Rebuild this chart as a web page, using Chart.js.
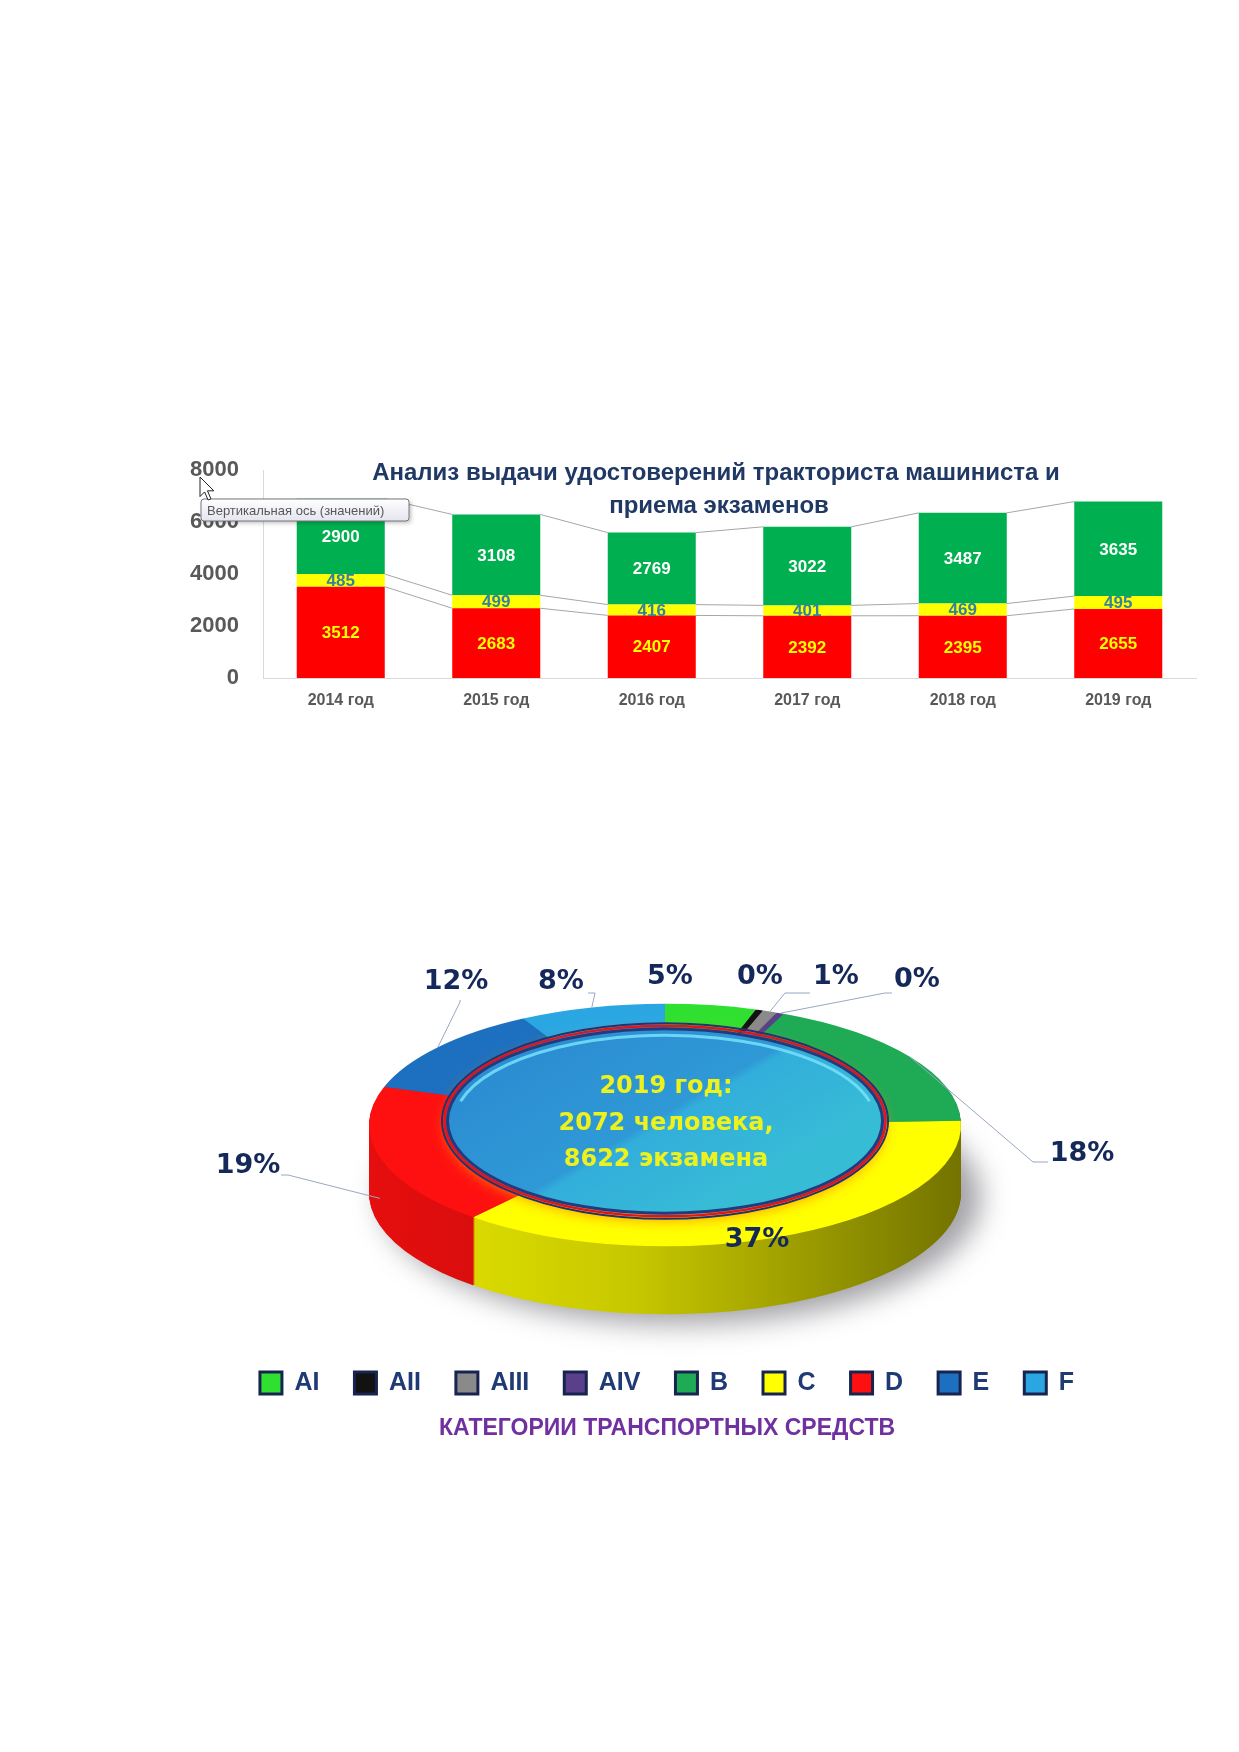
<!DOCTYPE html>
<html lang="ru">
<head>
<meta charset="UTF-8">
<title>Анализ выдачи удостоверений тракториста машиниста</title>
<style>
    * { margin: 0; padding: 0; box-sizing: border-box; }
    body { background: #fff; width: 1239px; height: 1752px; position: relative; overflow: hidden; }
    .box { position: absolute; }
    #barBox { left: 150px; top: 440px; width: 1070px; height: 290px; }
    #ringBox { left: 167px; top: 940px; width: 1000px; height: 540px; }
</style>
<script src="https://cdn.jsdelivr.net/npm/chart.js"></script>
</head>
<body>
<div class="box" id="barBox"><canvas id="barChart"></canvas></div>
<div class="box" id="ringBox"><canvas id="ringChart"></canvas></div>

<script>
// ---- bar chart data ----
const years = ['2014 год', '2015 год', '2016 год', '2017 год', '2018 год', '2019 год'];
const redSeries = [3512, 2683, 2407, 2392, 2395, 2655];
const yellowSeries = [485, 499, 416, 401, 469, 495];
const greenSeries = [2900, 3108, 2769, 3022, 3487, 3635];
const yMax = 8000;
const yStep = 2000;
const barTitle = ['Анализ выдачи удостоверений тракториста машиниста и', 'приема экзаменов'];
const hintText = 'Вертикальная ось (значений)';

// ---- ring chart data (2019) ----
const categories = ['AI', 'AII', 'AIII', 'AIV', 'B', 'C', 'D', 'E', 'F'];
const shares = [5, 0.4, 0.8, 0.4, 18, 37, 19, 12, 8];
const centerLines = ['2019 год:', '2072 человека,', '8622 экзамена'];
const ringTitle = 'КАТЕГОРИИ ТРАНСПОРТНЫХ СРЕДСТВ';

const ringColors = ['#30e030', '#121212', '#8a8a8a', '#5a3f8a', '#1faa55', '#ffff00', '#ff1010', '#1d70bf', '#2aa7e2'];

// ring geometry (canvas px)
const RING = { x: 498, y: 185, r: 296, k: 0.41, depth: 68 };
const labelLayout = [
    { x: 503, y: 37 },
    { x: 593, y: 37 },
    { x: 669, y: 37, lead: [-26, 16, -51, 16] },
    { x: 750, y: 40, lead: [-25, 13, -32, 13] },
    { x: 915, y: 214, lead: [-34, 8, -49, 8] },
    { x: 590, y: 300 },
    { x: 81, y: 226, lead: [33, 9, 40, 9] },
    { x: 289, y: 42, lead: [4, 18, 4, 20] },
    { x: 394, y: 42, lead: [27, 11, 34, 11] }
];

function shade(hex, f) {
    const n = parseInt(hex.slice(1), 16);
    const r = Math.round(((n >> 16) & 255) * f);
    const g = Math.round(((n >> 8) & 255) * f);
    const b = Math.round((n & 255) * f);
    return `rgb(${r},${g},${b})`;
}

// ---------------- bar chart ----------------
const valueColors = ['#ffff00', '#31849b', '#ffffff'];

const barDecor = {
    id: 'barDecor',
    afterDatasetsDraw(chart) {
        const ctx = chart.ctx;
        ctx.save();
        // series lines between bars
        ctx.strokeStyle = '#a6a6a6';
        ctx.lineWidth = 1;
        chart.data.datasets.forEach((ds, di) => {
            const bars = chart.getDatasetMeta(di).data;
            for (let i = 0; i < bars.length - 1; i++) {
                const a = bars[i], b = bars[i + 1];
                ctx.beginPath();
                ctx.moveTo(a.x + a.width / 2, a.y);
                ctx.lineTo(b.x - b.width / 2, b.y);
                ctx.stroke();
            }
        });
        // value labels
        ctx.font = 'bold 17px "Liberation Sans", Arial, sans-serif';
        ctx.textAlign = 'center';
        ctx.textBaseline = 'middle';
        chart.data.datasets.forEach((ds, di) => {
            ctx.fillStyle = valueColors[di];
            chart.getDatasetMeta(di).data.forEach((bar, i) => {
                ctx.fillText(ds.data[i], bar.x, (bar.y + bar.base) / 2 + 1);
            });
        });
        ctx.restore();
    },
    afterDraw(chart) {
        const ctx = chart.ctx;
        ctx.save();
        // title
        ctx.fillStyle = '#1f3864';
        ctx.font = 'bold 24px "Liberation Sans", Arial, sans-serif';
        ctx.textAlign = 'center';
        ctx.textBaseline = 'middle';
        ctx.fillText(barTitle[0], 566, 33);
        ctx.fillText(barTitle[1], 569, 66);

        // hover hint box
        const bx = 51, by = 59, bw = 208, bh = 22;
        ctx.shadowColor = 'rgba(0,0,0,0.25)';
        ctx.shadowBlur = 4;
        ctx.shadowOffsetX = 2;
        ctx.shadowOffsetY = 2;
        const g = ctx.createLinearGradient(0, by, 0, by + bh);
        g.addColorStop(0, '#ffffff');
        g.addColorStop(1, '#e4e5f0');
        ctx.fillStyle = g;
        ctx.beginPath();
        ctx.roundRect(bx, by, bw, bh, 3);
        ctx.fill();
        ctx.shadowColor = 'transparent';
        ctx.strokeStyle = '#767676';
        ctx.lineWidth = 1;
        ctx.stroke();
        ctx.fillStyle = '#575757';
        ctx.font = '13px "Liberation Sans", Arial, sans-serif';
        ctx.textAlign = 'left';
        ctx.fillText(hintText, bx + 6, by + bh / 2 + 1);

        // mouse pointer
        const px = 50, py = 37, s = 1.15;
        const pts = [[0, 0], [0, 17], [4, 13], [7, 20], [9.5, 19], [6.5, 12], [12, 12]];
        ctx.beginPath();
        pts.forEach((p, i) => {
            const X = px + p[0] * s, Y = py + p[1] * s;
            i ? ctx.lineTo(X, Y) : ctx.moveTo(X, Y);
        });
        ctx.closePath();
        ctx.fillStyle = '#ffffff';
        ctx.fill();
        ctx.strokeStyle = '#222';
        ctx.stroke();
        ctx.restore();
    }
};

new Chart(document.getElementById('barChart'), {
    type: 'bar',
    data: {
        labels: years,
        datasets: [
            { data: redSeries, backgroundColor: '#ff0000' },
            { data: yellowSeries, backgroundColor: '#ffff00' },
            { data: greenSeries, backgroundColor: '#00b050' }
        ]
    },
    options: {
        responsive: true,
        maintainAspectRatio: false,
        animation: false,
        events: [],
        layout: { padding: { top: 30, right: 24, left: 0, bottom: 0 } },
        datasets: { bar: { barPercentage: 0.566, categoryPercentage: 1 } },
        plugins: { legend: { display: false }, tooltip: { enabled: false } },
        scales: {
            x: {
                stacked: true,
                grid: { display: false },
                border: { display: true, color: '#d9d9d9' },
                ticks: { color: '#595959', padding: 5, font: { family: 'Liberation Sans', size: 16, weight: 'bold' } },
                afterFit(scale) { scale.height = 52; }
            },
            y: {
                stacked: true,
                min: 0,
                max: yMax,
                grid: { display: false },
                border: { display: true, color: '#d9d9d9' },
                ticks: {
                    stepSize: yStep,
                    color: '#595959',
                    padding: 16,
                    font: { family: 'Liberation Sans', size: 22, weight: 'bold' },
                    callback: v => String(v)
                },
                afterFit(scale) { scale.width = 113; }
            }
        }
    },
    plugins: [barDecor]
});

// ---------------- 3D ring chart ----------------
function arcPath(ctx, a) {
    ctx.beginPath();
    ctx.arc(a.x, a.y, a.outerRadius, a.startAngle, a.endAngle);
    ctx.arc(a.x, a.y, a.innerRadius, a.endAngle, a.startAngle, true);
    ctx.closePath();
}

const ring3d = {
    id: 'ring3d',
    beforeDatasetsDraw(chart) {
        const ctx = chart.ctx;
        const arcs = chart.getDatasetMeta(0).data;
        const ex = arcs[0].x, ey = arcs[0].y;
        const R = arcs[0].outerRadius;

        // soft floor shadow
        ctx.save();
        ctx.filter = 'blur(14px)';
        ctx.fillStyle = 'rgba(70,70,80,0.5)';
        ctx.beginPath();
        ctx.ellipse(RING.x + 16, RING.y + RING.depth + 4, R + 4, R * RING.k + 6, 0, 0, Math.PI * 2);
        ctx.fill();
        ctx.restore();

        // side walls
        for (let d = RING.depth; d >= 1; d--) {
            ctx.save();
            ctx.translate(RING.x, RING.y + d);
            ctx.scale(1, RING.k);
            ctx.translate(-ex, -ey);
            arcs.forEach((a, i) => {
                const g = ctx.createLinearGradient(ex - R, 0, ex + R, 0);
                const c = ringColors[i];
                g.addColorStop(0, shade(c, 0.9));
                g.addColorStop(0.45, shade(c, 0.78));
                g.addColorStop(1, shade(c, 0.45));
                ctx.fillStyle = g;
                arcPath(ctx, a);
                ctx.fill();
            });
            ctx.restore();
        }

        // top face transform
        ctx.save();
        ctx.translate(RING.x, RING.y);
        ctx.scale(1, RING.k);
        ctx.translate(-ex, -ey);
    },
    afterDatasetsDraw(chart) {
        const ctx = chart.ctx;
        ctx.restore();
        const arcs = chart.getDatasetMeta(0).data;
        const R = arcs[0].outerRadius;
        const ri = arcs[0].innerRadius;
        const k = RING.k;

        // center disk
        const rx = ri, ry = ri * k + 4, cy = RING.y - 4;
        ctx.save();
        ctx.shadowColor = 'rgba(255,140,0,0.9)';
        ctx.shadowBlur = 14;
        ctx.shadowOffsetY = 5;
        const g = ctx.createLinearGradient(RING.x - rx * 0.35, cy - ry, RING.x + rx * 0.15, cy + ry);
        g.addColorStop(0, '#2c8ed2');
        g.addColorStop(0.52, '#2f99d6');
        g.addColorStop(0.56, '#32aedb');
        g.addColorStop(1, '#37bcd6');
        ctx.fillStyle = g;
        ctx.beginPath();
        ctx.ellipse(RING.x, cy, rx, ry, 0, 0, Math.PI * 2);
        ctx.fill();
        ctx.restore();

        ctx.save();
        ctx.lineWidth = 2;
        ctx.strokeStyle = '#1f3470';
        ctx.beginPath(); ctx.ellipse(RING.x, cy, rx + 4, ry + 4, 0, 0, Math.PI * 2); ctx.stroke();
        ctx.lineWidth = 2.5;
        ctx.strokeStyle = '#e0141e';
        ctx.beginPath(); ctx.ellipse(RING.x, cy, rx + 1.5, ry + 1.5, 0, 0, Math.PI * 2); ctx.stroke();
        ctx.lineWidth = 3;
        ctx.strokeStyle = '#253a7c';
        ctx.beginPath(); ctx.ellipse(RING.x, cy, rx - 1.5, ry - 1.5, 0, 0, Math.PI * 2); ctx.stroke();
        ctx.lineWidth = 3;
        ctx.strokeStyle = 'rgba(120,225,250,0.85)';
        ctx.beginPath(); ctx.ellipse(RING.x, cy + 2, rx - 8, ry - 6, 0, Math.PI * 1.08, Math.PI * 1.92); ctx.stroke();

        // center text
        ctx.fillStyle = '#eef21c';
        ctx.font = 'bold 24px "DejaVu Sans", sans-serif';
        ctx.textAlign = 'center';
        ctx.textBaseline = 'middle';
        const offs = [-38, -1, 35];
        centerLines.forEach((t, i) => ctx.fillText(t, RING.x + 1, RING.y + offs[i]));

        // percentage labels with leader lines
        ctx.strokeStyle = '#9aa6c4';
        ctx.lineWidth = 1;
        arcs.forEach((a, i) => {
            const L = labelLayout[i];
            if (!L.lead) return;
            const mid = (a.startAngle + a.endAngle) / 2;
            let ax = RING.x + R * Math.cos(mid);
            let ay = RING.y + R * k * Math.sin(mid);
            if (Math.sin(mid) > 0.15) ay += RING.depth * 0.6;
            ctx.beginPath();
            ctx.moveTo(L.x + L.lead[0], L.y + L.lead[1]);
            ctx.lineTo(L.x + L.lead[2], L.y + L.lead[3]);
            ctx.lineTo(ax, ay);
            ctx.stroke();
        });
        ctx.font = 'bold 27px "DejaVu Sans", sans-serif';
        ctx.fillStyle = '#14285a';
        shares.forEach((v, i) => {
            const L = labelLayout[i];
            ctx.fillText(Math.round(v) + '%', L.x, L.y);
        });
        ctx.restore();
    }
};

new Chart(document.getElementById('ringChart'), {
    type: 'doughnut',
    data: {
        labels: categories,
        datasets: [{
            data: shares,
            backgroundColor: ringColors,
            borderWidth: 0,
            clip: false
        }]
    },
    options: {
        responsive: true,
        maintainAspectRatio: false,
        animation: false,
        events: [],
        radius: RING.r,
        cutout: '74%',
        plugins: {
            tooltip: { enabled: false },
            legend: {
                position: 'bottom',
                labels: {
                    boxWidth: 22,
                    boxHeight: 22,
                    padding: 35,
                    color: '#1f3a75',
                    font: { family: 'Liberation Sans', size: 25, weight: 'bold' },
                    generateLabels(chart) {
                        const items = Chart.overrides.doughnut.plugins.legend.labels.generateLabels(chart);
                        items.forEach(it => { it.strokeStyle = '#17244f'; it.lineWidth = 3; });
                        return items;
                    }
                }
            },
            title: {
                display: true,
                position: 'bottom',
                text: ringTitle,
                color: '#7030a0',
                font: { family: 'Liberation Sans', size: 23, weight: 'bold' },
                padding: { top: 9, bottom: 38 }
            }
        }
    },
    plugins: [ring3d]
});
</script>
</body>
</html>
